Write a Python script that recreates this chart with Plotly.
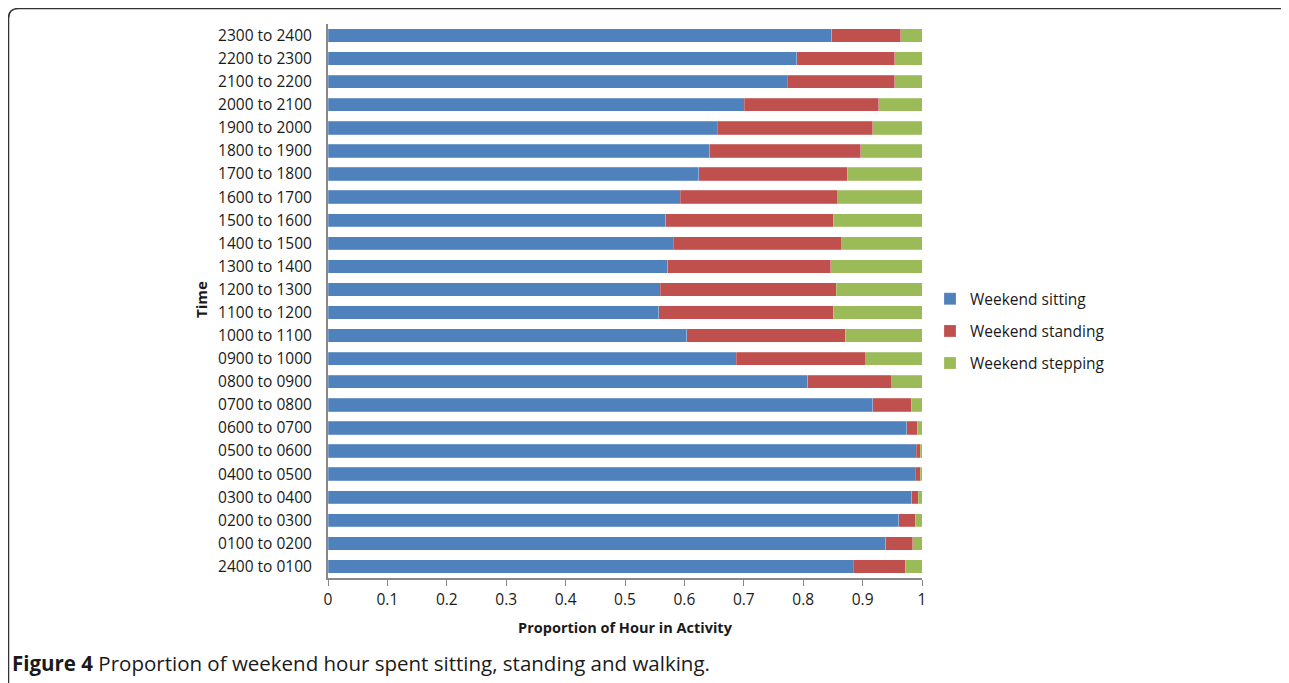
import plotly.graph_objects as go

categories = ["2400 to 0100", "0100 to 0200", "0200 to 0300", "0300 to 0400", "0400 to 0500",
              "0500 to 0600", "0600 to 0700", "0700 to 0800", "0800 to 0900", "0900 to 1000",
              "1000 to 1100", "1100 to 1200", "1200 to 1300", "1300 to 1400", "1400 to 1500",
              "1500 to 1600", "1600 to 1700", "1700 to 1800", "1800 to 1900", "1900 to 2000",
              "2000 to 2100", "2100 to 2200", "2200 to 2300", "2300 to 2400"]
sitting = [0.884, 0.939, 0.961, 0.983, 0.989, 0.990, 0.974, 0.917, 0.808, 0.687,
           0.604, 0.557, 0.559, 0.572, 0.581, 0.569, 0.593, 0.624, 0.643, 0.655,
           0.701, 0.773, 0.789, 0.848]
standing = [0.088, 0.045, 0.028, 0.011, 0.008, 0.007, 0.018, 0.065, 0.141, 0.218,
            0.267, 0.294, 0.297, 0.274, 0.284, 0.282, 0.265, 0.250, 0.254, 0.262,
            0.226, 0.181, 0.165, 0.116]
stepping = [0.028, 0.016, 0.011, 0.006, 0.003, 0.003, 0.008, 0.018, 0.051, 0.095,
            0.129, 0.149, 0.144, 0.154, 0.135, 0.149, 0.142, 0.126, 0.103, 0.083,
            0.073, 0.046, 0.046, 0.036]
x_ticks = [0, 0.1, 0.2, 0.3, 0.4, 0.5, 0.6, 0.7, 0.8, 0.9, 1]
x_tick_labels = ["0", "0.1", "0.2", "0.3", "0.4", "0.5", "0.6", "0.7", "0.8", "0.9", "1"]

FONT = "Open Sans"
W, H = 1281, 675
L, R, T, B = 320, 367, 16, 105
PW, PH = W - L - R, H - T - B

def px(fx):
    return (fx - L) / PW

def py(fy):
    return (H - B - fy) / PH

series = [("Weekend sitting", sitting, "#4F81BD"),
          ("Weekend standing", standing, "#C0504D"),
          ("Weekend stepping", stepping, "#9BBB59")]

fig = go.Figure()
for name, vals, col in series:
    fig.add_trace(go.Bar(
        y=categories, x=vals, name=name, orientation="h",
        marker=dict(color=col, line=dict(color="rgba(255,255,255,0.35)", width=0.6)),
        legendgroup=name, width=0.58,
    ))

fig.update_layout(
    barmode="stack",
    width=W, height=H,
    paper_bgcolor="white", plot_bgcolor="white",
    margin=dict(l=L, r=R, t=T, b=B, autoexpand=False),
    font=dict(family=FONT, size=15.5, color="#1a1a1a"),
    xaxis=dict(
        range=[0, 1], tickvals=x_ticks, ticktext=x_tick_labels,
        showgrid=False, zeroline=False, automargin=False,
        showline=True, linecolor="#888888", linewidth=2,
        ticks="outside", ticklen=6, tickcolor="#888888", tickwidth=1,
        tickfont=dict(size=15.5, family=FONT),
        title=dict(text="<b>Proportion of Hour in Activity</b>", font=dict(size=14.5, family=FONT), standoff=14),
    ),
    yaxis=dict(
        categoryorder="array", categoryarray=categories,
        showgrid=False, zeroline=False, automargin=False,
        showline=True, linecolor="#888888", linewidth=2,
        ticks="", ticklabelstandoff=11,
        tickfont=dict(size=15.5, family=FONT),
    ),
    legend=dict(
        x=px(930 - 8), y=0.534, xanchor="left", yanchor="top",
        traceorder="grouped", tracegroupgap=9,
        font=dict(size=15.5, family=FONT),
        itemwidth=30,
    ),
)

fig.add_annotation(
    text="<b>Time</b>", textangle=-90,
    xref="paper", yref="paper", x=px(201 - 8), y=py(300 - 8),
    xanchor="center", yanchor="middle", showarrow=False,
    font=dict(size=15, family=FONT, color="#1a1a1a"),
)

# rounded figure border
x0, y0, x1, rr = 0.5, 0.5, 1283, 10
path = (f"M {px(x0)} {py(H + 5)} L {px(x0)} {py(y0 + rr)} "
        f"Q {px(x0)} {py(y0)} {px(x0 + rr)} {py(y0)} "
        f"L {px(x1 - rr)} {py(y0)} Q {px(x1)} {py(y0)} {px(x1)} {py(y0 + rr)} "
        f"L {px(x1)} {py(H + 5)}")
fig.add_shape(type="path", xref="paper", yref="paper", path=path,
              line=dict(color="#333333", width=1.5))

fig.add_annotation(
    text="<b>Figure 4</b> Proportion of weekend hour spent sitting, standing and walking.",
    xref="paper", yref="paper", x=px(10 - 8), y=py(663 - 8), xanchor="left", yanchor="middle",
    showarrow=False, font=dict(size=20.5, family=FONT, color="#1a1a1a"),
)

fig.write_html("out.html")
